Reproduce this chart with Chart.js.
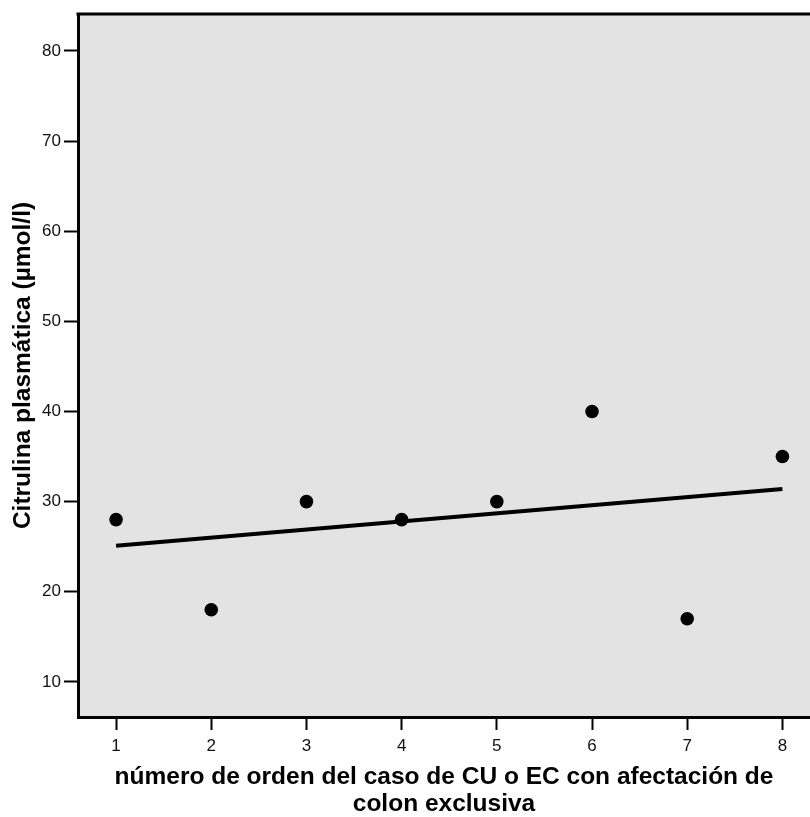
<!DOCTYPE html>
<html>
<head>
<meta charset="utf-8">
<script src="https://cdn.jsdelivr.net/npm/chart.js@4.4.1/dist/chart.umd.min.js"></script>
<style>
  html, body { margin: 0; padding: 0; background: #fff; }
  #wrap { width: 810px; height: 817px; }
</style>
</head>
<body>
<div id="wrap"><canvas id="scatter"></canvas></div>
<script>
// case order number vs plasma citrulline
const caseNumbers = [1, 2, 3, 4, 5, 6, 7, 8];
const citrulline = [28, 18, 30, 28, 30, 40, 17, 35];
// fitted line, read at the first and last case
const fitX = [1, 8];
const fitY = [25.1, 31.4];
const xTicks = [1, 2, 3, 4, 5, 6, 7, 8];
const yTicks = [10, 20, 30, 40, 50, 60, 70, 80];

const points = caseNumbers.map((x, i) => ({ x: x, y: citrulline[i] }));
const fitLine = fitX.map((x, i) => ({ x: x, y: fitY[i] }));

// grey panel plus the top border line
const panelBg = {
  id: 'panelBg',
  beforeDraw(chart) {
    const { ctx, chartArea: a } = chart;
    ctx.save();
    ctx.fillStyle = '#e3e3e3';
    ctx.fillRect(a.left, a.top, a.right - a.left, a.bottom - a.top);
    ctx.restore();
  },
  afterDraw(chart) {
    const { ctx, chartArea: a } = chart;
    ctx.save();
    ctx.strokeStyle = '#000';
    ctx.lineWidth = 3;
    ctx.beginPath();
    ctx.moveTo(a.left - 1.5, a.top);
    ctx.lineTo(a.right, a.top);
    ctx.stroke();
    ctx.restore();
  }
};

const fam = 'Liberation Sans, Arial, sans-serif';
const tickFont = { family: fam, size: 17 };
const titleFont = { family: fam, size: 24.5, weight: 'bold', lineHeight: 1.08 };

new Chart(document.getElementById('scatter'), {
  type: 'scatter',
  data: {
    datasets: [
      {
        type: 'line',
        data: fitLine,
        borderColor: '#000',
        borderWidth: 4,
        pointRadius: 0,
        fill: false,
        order: 2
      },
      {
        data: points,
        backgroundColor: '#000',
        borderColor: '#000',
        pointRadius: 6.8,
        pointBorderWidth: 0,
        order: 1
      }
    ]
  },
  options: {
    responsive: true,
    maintainAspectRatio: false,
    animation: false,
    layout: { autoPadding: false, padding: { top: 14, left: 0, right: 0, bottom: 0 } },
    plugins: { legend: { display: false }, tooltip: { enabled: false } },
    scales: {
      x: {
        type: 'linear',
        min: 0.6,
        max: 8.29,
        afterBuildTicks: s => { s.ticks = xTicks.map(v => ({ value: v })); },
        afterFit: s => { s.height = 100; },
        border: { display: true, color: '#000', width: 3 },
        grid: { drawOnChartArea: false, tickLength: 13, tickColor: '#000', tickWidth: 2 },
        ticks: { color: '#111', font: tickFont, padding: 6, maxRotation: 0 },
        title: {
          display: true,
          text: ['número de orden del caso de CU o EC con afectación de', 'colon exclusiva'],
          color: '#000',
          font: titleFont,
          padding: { top: 2, bottom: 0 }
        }
      },
      y: {
        min: 6.1,
        max: 84.1,
        afterBuildTicks: s => { s.ticks = yTicks.map(v => ({ value: v })); },
        afterFit: s => { s.width = 78; },
        border: { display: true, color: '#000', width: 3 },
        grid: { drawOnChartArea: false, tickLength: 14, tickColor: '#000', tickWidth: 2 },
        ticks: { color: '#111', font: tickFont, padding: 3 },
        title: {
          display: true,
          text: 'Citrulina plasmática (µmol/l)',
          color: '#000',
          font: { family: fam, size: 24.5, weight: 'bold', lineHeight: 1.2 },
          padding: { top: 9, bottom: 0 }
        }
      }
    }
  },
  plugins: [panelBg]
});
</script>
</body>
</html>
